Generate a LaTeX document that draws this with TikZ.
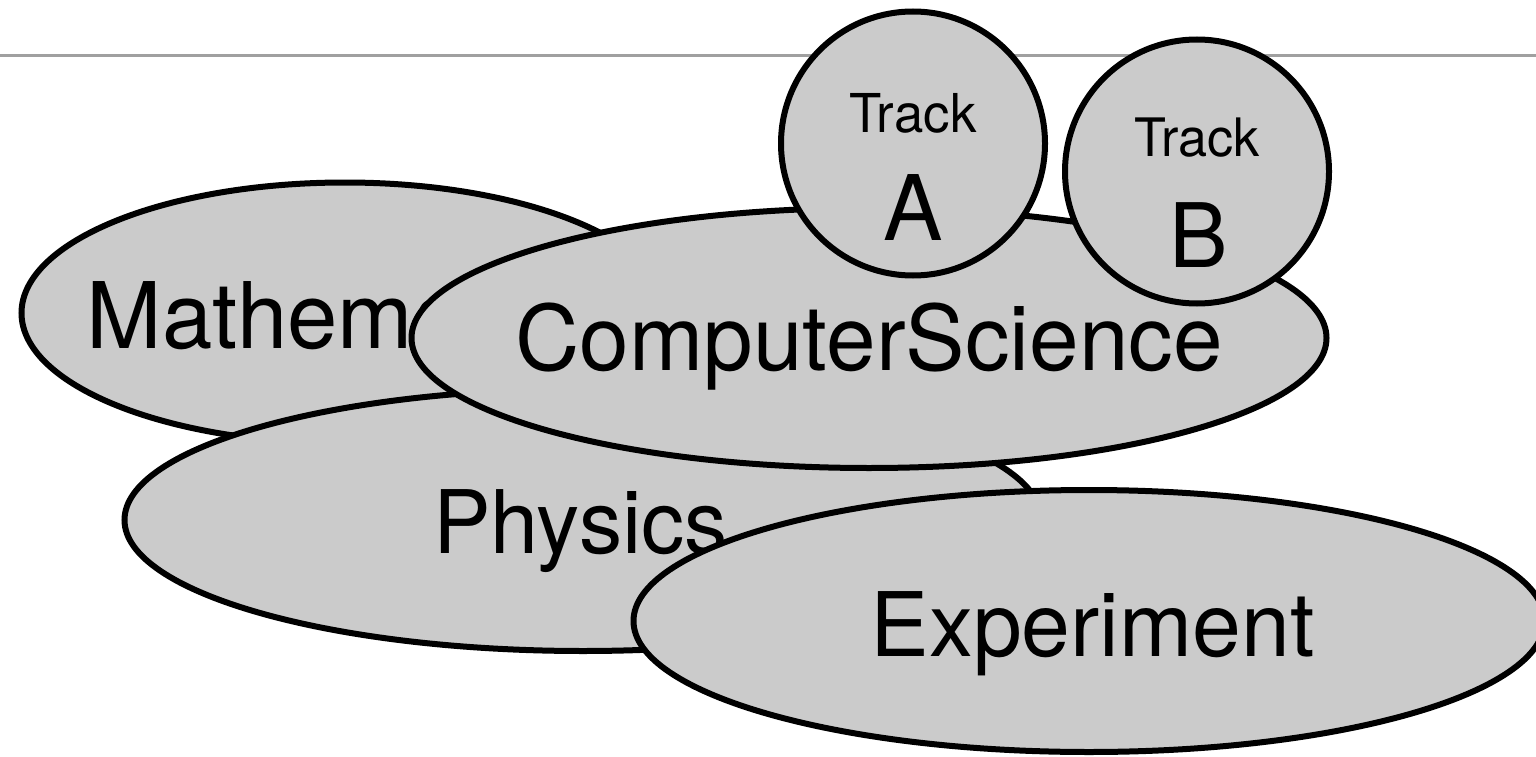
\documentclass[tikz,border=0pt]{standalone}
\usepackage{fontspec}
\setmainfont{TeX Gyre Heros}[FakeStretch=0.985]
\usetikzlibrary{shapes.geometric}

\definecolor{blobfill}{HTML}{CBCBCB}
\definecolor{rulegray}{HTML}{A0A0A0}

\begin{document}
\begin{tikzpicture}[x=1pt, y=-1pt,
  blob/.style n args={2}{ellipse, draw=black, line width=6pt, fill=blobfill,
    inner sep=0pt, minimum width=#1, minimum height=#2},
  track/.style={circle, draw=black, line width=6pt, fill=blobfill,
    inner sep=0pt, minimum size=264pt},
  lbl/.style={anchor=base, inner sep=0pt, font=\fontsize{#1}{#1}\selectfont},
  lbl/.default=90.5
]
\useasboundingbox (0,0) rectangle (1536,757);

% header rule
\coordinate (ruleL) at (0,56);
\coordinate (ruleR) at (1536,56);
\draw[rulegray, line width=3pt] (ruleL) -- (ruleR);

% fields, back to front
\node[blob={647pt}{261pt}] (math) at (345,313) {};
\node[lbl=91.9] (mathtxt) at (343,348) {Mathematics};

\node[blob={917pt}{262pt}] (phys) at (583,520) {};
\node[lbl=87.7] (phystxt) at (580.5,553) {Physics};

\node[blob={915pt}{260pt}] (cs) at (869,338) {};
\node[lbl=90.5] (cstxt) at (869,370) {ComputerScience};

\node[blob={911pt}{262pt}] (exp) at (1089,621) {};
\node[lbl=89.1] (exptxt) at (1092.5,656) {Experiment};

% tracks on top of computer science
\node[track] (ta) at (913,143.5) {};
\node[lbl=53.6] (tatxt) at (913,132) {Track};
\node[lbl=90.5] (taletter) at (913.5,240) {A};

\node[track] (tb) at (1197,171.5) {};
\node[lbl=53] (tbtxt) at (1197,157) {Track};
\node[lbl=89] (tbletter) at (1199,267) {B};
\end{tikzpicture}
\end{document}
